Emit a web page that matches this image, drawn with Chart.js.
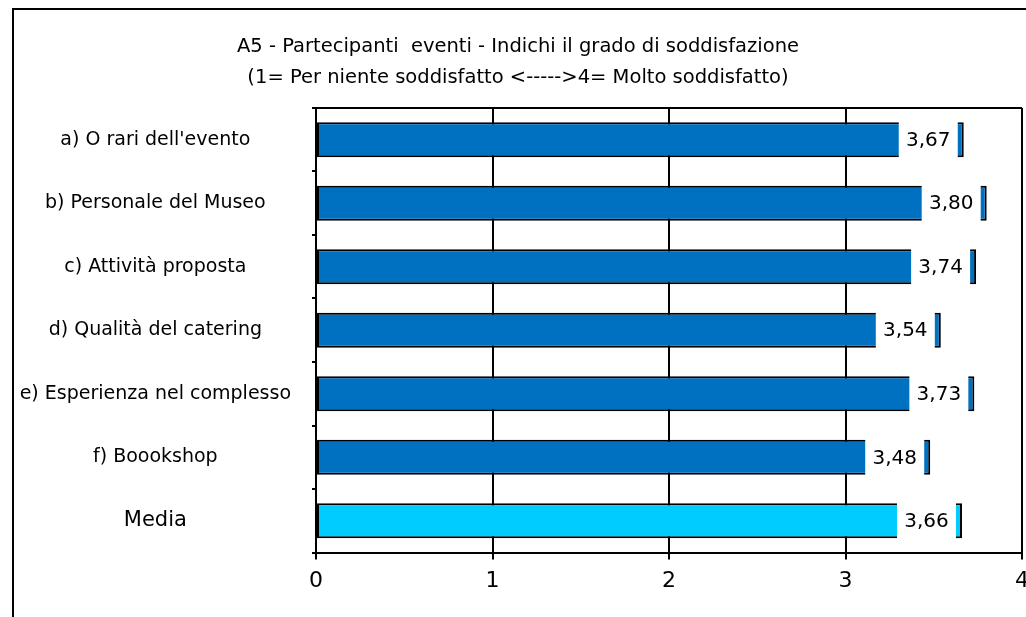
<!DOCTYPE html>
<html>
<head>
<meta charset="utf-8">
<script src="https://cdn.jsdelivr.net/npm/chart.js@4"></script>
<style>
  html, body { margin: 0; padding: 0; background: #fff; }
  #wrap { width: 1026px; height: 617px; }
</style>
</head>
<body>
<div id="wrap"><canvas id="chart" aria-label="A5 - Partecipanti eventi"></canvas></div>
<script>
// data
const categories = [
  "a) O rari dell'evento",
  "b) Personale del Museo",
  "c) Attività proposta",
  "d) Qualità del catering",
  "e) Esperienza nel complesso",
  "f) Boookshop",
  "Media"
];
const scores = [3.67, 3.80, 3.74, 3.54, 3.73, 3.48, 3.66];
const xTicks = [0, 1, 2, 3, 4];
const titleLines = [
  "A5 - Partecipanti  eventi - Indichi il grado di soddisfazione",
  "(1= Per niente soddisfatto <----->4= Molto soddisfatto)"
];

const FONT = "'DejaVu Sans', Tahoma, sans-serif";

// outer frame + top edge of the plot area
const framePlugin = {
  id: 'frame',
  afterDraw(chart) {
    const ctx = chart.ctx, a = chart.chartArea;
    ctx.save();
    ctx.strokeStyle = '#000';
    ctx.lineWidth = 2;
    ctx.beginPath();
    ctx.moveTo(13, 617);
    ctx.lineTo(13, 9);
    ctx.lineTo(1026, 9);
    ctx.stroke();
    ctx.beginPath();
    ctx.moveTo(a.left, a.top);
    ctx.lineTo(a.right, a.top);
    ctx.stroke();
    ctx.restore();
  }
};

// value labels with white box at the end of every bar
const valueLabels = {
  id: 'valueLabels',
  afterDatasetsDraw(chart) {
    const ctx = chart.ctx;
    const meta = chart.getDatasetMeta(0);
    ctx.save();
    ctx.font = '20px ' + FONT;
    ctx.textAlign = 'center';
    ctx.textBaseline = 'middle';
    meta.data.forEach((bar, i) => {
      const h = bar.height;
      const x1 = bar.x - 65, x2 = bar.x - 6;
      ctx.fillStyle = '#fff';
      ctx.fillRect(x1, bar.y - h / 2 - 2, x2 - x1, h + 3);
      ctx.fillStyle = '#000';
      ctx.fillText(scores[i].toFixed(2).replace('.', ','), (x1 + x2) / 2, bar.y + 1);
    });
    ctx.restore();
  }
};

new Chart(document.getElementById('chart'), {
  type: 'bar',
  data: {
    labels: categories,
    datasets: [{
      data: scores,
      backgroundColor: categories.map((c, i) => i === categories.length - 1 ? '#00ccff' : '#0070c0'),
      borderColor: '#000',
      borderWidth: 2,
      borderSkipped: false,
      categoryPercentage: 0.55,
      barPercentage: 1
    }]
  },
  options: {
    indexAxis: 'y',
    responsive: true,
    maintainAspectRatio: false,
    animation: false,
    layout: {
      padding: { left: 14, right: 4, top: 31, bottom: 15 }
    },
    plugins: {
      legend: { display: false },
      tooltip: { enabled: false },
      title: {
        display: true,
        text: titleLines,
        color: '#000',
        font: { family: FONT, size: 19.5, weight: 'normal', lineHeight: 1.6 },
        padding: { top: 0, bottom: 14.5 }
      }
    },
    scales: {
      x: {
        min: 0,
        max: 4,
        afterBuildTicks(axis) { axis.ticks = xTicks.map(v => ({ value: v })); },
        afterFit(axis) { axis.paddingRight = 0; },
        grid: { color: '#000', lineWidth: 2, tickLength: 7, drawTicks: true },
        border: { display: true, color: '#000', width: 2 },
        ticks: { color: '#000', font: { family: FONT, size: 22 }, padding: 8 }
      },
      y: {
        afterFit(axis) { axis.width = 302; },
        grid: { offset: true, drawOnChartArea: false, color: '#000', lineWidth: 2, tickLength: 4 },
        border: { display: true, color: '#000', width: 2 },
        ticks: {
          color: '#000',
          crossAlign: 'center',
          padding: 21,
          font: (c) => ({ family: FONT, size: c.index === categories.length - 1 ? 21 : 19 })
        }
      }
    }
  },
  plugins: [framePlugin, valueLabels]
});
</script>
</body>
</html>
